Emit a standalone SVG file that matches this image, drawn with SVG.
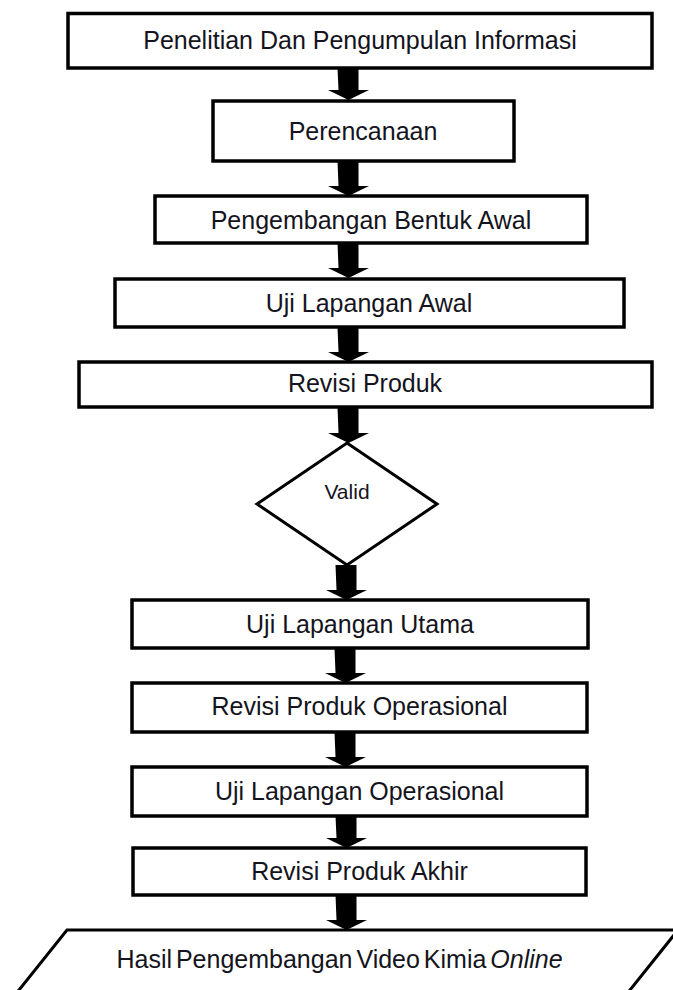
<svg xmlns="http://www.w3.org/2000/svg" width="673" height="990" viewBox="0 0 673 990">
<style>
.box{fill:#fff;stroke:#000;stroke-width:3.5}
.shape{fill:#fff;stroke:#000;stroke-width:3}
.t{font-family:"Liberation Sans",Arial,sans-serif;font-size:25px;fill:#141420;text-anchor:middle}
.v{font-size:21px}
.arr{fill:#000}
</style>
<g id="connectors" class="arr">
<path d="M337.5,68 h21 v22 h10.5 l-20.5,10 l-20.5,-10 h10.5 z"/>
<path d="M337.5,161 h21 v25 h10.5 l-20.5,10 l-20.5,-10 h10.5 z"/>
<path d="M337.5,243 h21 v25 h10.5 l-20.5,10 l-20.5,-10 h10.5 z"/>
<path d="M337.5,327 h21 v25 h10.5 l-20.5,10 l-20.5,-10 h10.5 z"/>
<path d="M337.5,407 h21 v26 h10.5 l-20.5,10 l-20.5,-10 h10.5 z"/>
<path d="M335.5,565 h21 v25 h10.5 l-20.5,10 l-20.5,-10 h10.5 z"/>
<path d="M334.5,648 h21 v25 h10.5 l-20.5,10 l-20.5,-10 h10.5 z"/>
<path d="M334.5,732 h21 v25 h10.5 l-20.5,10 l-20.5,-10 h10.5 z"/>
<path d="M335.5,816 h21 v22 h10.5 l-20.5,10 l-20.5,-10 h10.5 z"/>
<path d="M335.5,895 h21 v25 h10.5 l-20.5,10 l-20.5,-10 h10.5 z"/>
</g>
<g id="n1"><rect class="box" x="68" y="13.5" width="584" height="54.5"/><text class="t" x="360" y="49">Penelitian Dan Pengumpulan Informasi</text></g>
<g id="n2"><rect class="box" x="213" y="101" width="301" height="60"/><text class="t" x="363" y="139.5">Perencanaan</text></g>
<g id="n3"><rect class="box" x="155" y="196" width="432" height="47"/><text class="t" x="371" y="228.5">Pengembangan Bentuk Awal</text></g>
<g id="n4"><rect class="box" x="115" y="279" width="509" height="48"/><text class="t" x="369" y="312">Uji Lapangan Awal</text></g>
<g id="n5"><rect class="box" x="79" y="362" width="573" height="45"/><text class="t" x="365" y="392">Revisi Produk</text></g>
<g id="n6"><polygon class="shape" points="347,443 437,504 347,565 257,504"/><text class="t v" x="347" y="499">Valid</text></g>
<g id="n7"><rect class="box" x="132" y="600" width="456" height="48"/><text class="t" x="360" y="633">Uji Lapangan Utama</text></g>
<g id="n8"><rect class="box" x="132" y="683" width="455" height="49"/><text class="t" x="359.5" y="715">Revisi Produk Operasional</text></g>
<g id="n9"><rect class="box" x="132" y="767" width="455" height="49"/><text class="t" x="359.5" y="799.5">Uji Lapangan Operasional</text></g>
<g id="n10"><rect class="box" x="133" y="848" width="453" height="47"/><text class="t" x="359.5" y="880">Revisi Produk Akhir</text></g>
<g id="n11"><polygon class="shape" points="67,930 678,930 622,1000 11,1000"/><text class="t" x="339.5" y="968" word-spacing="-3">Hasil Pengembangan Video Kimia <tspan font-style="italic">Online</tspan></text></g>
</svg>
